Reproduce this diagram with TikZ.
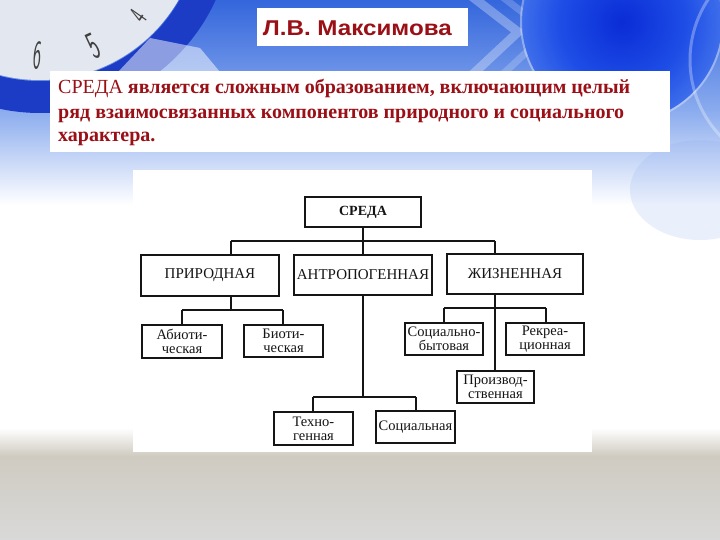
\documentclass[tikz,border=0pt]{standalone}
\usepackage{fontspec}
\setmainfont{Liberation Serif}
\newfontfamily\titlefont{Liberation Sans}
\definecolor{dred}{HTML}{9A1016}
\definecolor{bgA}{HTML}{3466DC}
\definecolor{bgB}{HTML}{8AABEE}
\definecolor{rim}{HTML}{1C3CC6}
\definecolor{face}{HTML}{E3E7EF}
\definecolor{gA}{HTML}{0A2CD6}
\definecolor{gB}{HTML}{1E4EE6}
\definecolor{gC}{HTML}{5E8EEE}
\definecolor{gD}{HTML}{B9CFF6}
\definecolor{band1}{HTML}{CFCBC1}
\definecolor{band2}{HTML}{C7C4BE}
\definecolor{band3}{HTML}{D9D9D9}
\definecolor{ink}{HTML}{151515}
\pgfdeclareradialshading{glow}{\pgfpoint{0bp}{0bp}}{color(0bp)=(gA); color(16bp)=(gB); color(34bp)=(gC); color(46bp)=(gD); color(50bp)=(gC)}
\tikzset{
  box/.style={draw=ink, line width=1.3pt, fill=white, inner sep=0pt, align=center, text=ink},
  dim/.style 2 args={minimum width=#1pt, minimum height=#2pt},
  big/.style={box, font=\fontsize{15}{15}\selectfont},
  small/.style={box, font=\fontsize{14.5}{14}\selectfont},
  conn/.style={draw=ink, line width=1.3pt},
  digit/.style={text=black!75, font=\sffamily\fontsize{34}{34}\selectfont, inner sep=0pt},
  bodyline/.style={anchor=base west, inner sep=0pt, text=dred, font=\fontsize{20}{24}\selectfont}
}
\begin{document}
\begin{tikzpicture}[x=1pt, y=-1pt]
\useasboundingbox (0,0) rectangle (720,540);
% ---------- background ----------
\fill[white] (0,0) rectangle (720,540);
\shade[top color=bgA, bottom color=bgB] (0,0) rectangle (720,110);
\shade[top color=bgB, bottom color=white] (0,110) rectangle (720,205);
% chevrons
\draw[white, opacity=0.3, line width=9pt] (470,-5) -- (518,32) -- (472,75);
\draw[white, opacity=0.2, line width=7pt] (500,-5) -- (548,32) -- (502,75);
% right glow
\shade[shading=glow] (622,22) circle (100);
\draw[white, opacity=0.35, line width=2pt] (622,22) circle (101);
\draw[white, opacity=0.3, line width=3pt] (800,60) circle (110);
\fill[bgB, opacity=0.18] (700,190) ellipse (70 and 50);
% clock
\draw[rim, line width=32pt] (40,-80) circle (177);
\fill[face] (40,-80) circle (160);
\fill[white, opacity=0.5] (118,72) -- (150,38) -- (200,48) -- (220,72) -- cycle;
\node[digit, rotate=-5] (d6) at (38,56) {\scalebox{0.5}[1.2]{6}};
\node[digit, rotate=25] (d5) at (94,46) {\scalebox{0.6}[1.15]{5}};
\node[digit, rotate=55, font=\sffamily\fontsize{26}{26}\selectfont] (d4) at (138,16) {\scalebox{0.6}[1.1]{4}};
% bottom band
\shade[top color=white, bottom color=band1] (0,428) rectangle (720,456);
\shade[top color=band1, middle color=band2, bottom color=band3] (0,456) rectangle (720,540);
% ---------- title ----------
\fill[white] (257,8) rectangle (468,46.5);
\node[anchor=base west, inner sep=0pt, text=dred, font=\titlefont\bfseries\fontsize{21.4}{22}\selectfont] (title) at (262.7,36) {\scalebox{1.13}[1]{Л.В. Максимова}};
% ---------- text ----------
\fill[white] (50,71) rectangle (670,152);
\node[bodyline] (l1) at (58,94) {СРЕДА \textbf{является сложным образованием, включающим целый}};
\node[bodyline] (l2) at (58,118.5) {\textbf{ряд взаимосвязанных компонентов природного и социального}};
\node[bodyline] (l3) at (58,142) {\textbf{характера.}};
% ---------- diagram ----------
\fill[white] (133,170) rectangle (592,452);
\node[box, dim={116}{30}, font=\bfseries\fontsize{14}{14}\selectfont] (sreda) at (363,212) {СРЕДА};
\node[big, dim={138}{41}] (prir) at (210,275.5) {ПРИРОДНАЯ};
\node[big, dim={138}{40}] (antr) at (363,275) {АНТРОПОГЕННАЯ};
\node[big, dim={136}{40}] (zhiz) at (515,274) {ЖИЗНЕННАЯ};
\node[small, dim={80}{33}] (abio) at (182,341.5) {Абиоти-\\ческая};
\node[small, dim={79}{32}] (bio) at (283.5,341) {Биоти-\\ческая};
\node[small, dim={78}{32}] (sotsbyt) at (444,339) {Социально-\\бытовая};
\node[small, dim={78}{32}] (rekr) at (545,339) {Рекреа-\\ционная};
\node[small, dim={77}{32}] (proizv) at (495.5,387) {Производ-\\ственная};
\node[small, dim={79}{33}] (tekhno) at (313.5,428.5) {Техно-\\генная};
\node[small, dim={79}{32}] (sots) at (415.5,427) {Социальная};
% connectors
\coordinate (bl) at (231,241);
\coordinate (br) at (495,241);
\draw[conn] (bl) -- (br);
\draw[conn] (sreda.south) -- (antr.north);
\draw[conn] (bl) -- (bl |- prir.north);
\draw[conn] (br) -- (br |- zhiz.north);
\coordinate (pl) at (182,310);
\coordinate (pr) at (283,310);
\draw[conn] (bl |- prir.south) -- (bl |- pl);
\draw[conn] (pl) -- (pr);
\draw[conn] (pl) -- (pl |- abio.north);
\draw[conn] (pr) -- (pr |- bio.north);
\coordinate (al) at (313,397);
\coordinate (ar) at (416,397);
\draw[conn] (antr.south) -- (antr.south |- al);
\draw[conn] (al) -- (ar);
\draw[conn] (al) -- (al |- tekhno.north);
\draw[conn] (ar) -- (ar |- sots.north);
\coordinate (zl) at (444,308);
\coordinate (zr) at (546,308);
\draw[conn, line width=1.9pt] (br |- zhiz.south) -- (br |- proizv.north);
\draw[conn] (zl) -- (zr);
\draw[conn] (zl) -- (zl |- sotsbyt.north);
\draw[conn] (zr) -- (zr |- rekr.north);
\end{tikzpicture}
\end{document}
